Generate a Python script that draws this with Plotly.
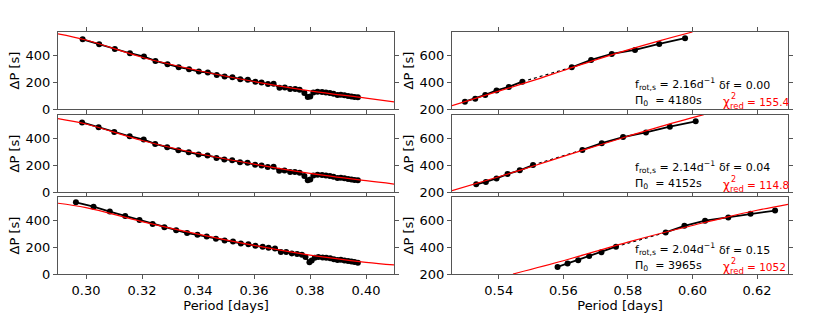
import plotly.graph_objects as go
from plotly.subplots import make_subplots

# ---------------- data ----------------
# Left column: observed period spacing vs period
period_left_top = [0.2988, 0.3047, 0.3103, 0.3157, 0.3207, 0.3248, 0.3291, 0.3331, 0.3368, 0.3403,
                   0.3435, 0.3467, 0.3495, 0.3523, 0.3551, 0.3578, 0.3605, 0.3627, 0.3650, 0.3670,
                   0.3691, 0.3710, 0.3729, 0.3747, 0.3763, 0.3780, 0.3792, 0.3801, 0.3812, 0.3827,
                   0.3843, 0.3857, 0.3871, 0.3884, 0.3898, 0.3910, 0.3923, 0.3936, 0.3948, 0.3959,
                   0.3971]
dp_left_top = [525, 488, 452, 420, 395, 362, 338, 315, 300, 282,
               275, 257, 245, 240, 225, 220, 205, 200, 188, 190,
               160, 162, 150, 150, 145, 120, 90, 95, 125, 130,
               128, 125, 120, 115, 105, 108, 103, 98, 95, 90,
               88]
period_left_mid = [0.2986, 0.3045, 0.3101, 0.3156, 0.3206, 0.3247, 0.3290, 0.3330, 0.3367, 0.3402,
                   0.3434, 0.3466, 0.3494, 0.3522, 0.3550, 0.3577, 0.3604, 0.3627, 0.3649, 0.3670,
                   0.3690, 0.3709, 0.3729, 0.3746, 0.3763, 0.3780, 0.3792, 0.3801, 0.3812, 0.3827,
                   0.3843, 0.3857, 0.3871, 0.3884, 0.3898, 0.3910, 0.3923, 0.3936, 0.3948, 0.3959,
                   0.3971]
dp_left_mid = [524, 488, 452, 420, 395, 362, 338, 315, 300, 282,
               275, 257, 245, 240, 225, 220, 205, 200, 188, 190,
               160, 162, 150, 150, 145, 120, 88, 95, 125, 130,
               128, 125, 120, 115, 105, 108, 103, 98, 95, 90,
               88]
period_left_bot = [0.2964, 0.3027, 0.3085, 0.3140, 0.3191, 0.3238, 0.3280, 0.3322, 0.3361, 0.3398,
                   0.3431, 0.3464, 0.3495, 0.3525, 0.3553, 0.3580, 0.3605, 0.3631, 0.3652, 0.3675,
                   0.3696, 0.3715, 0.3735, 0.3754, 0.3771, 0.3784, 0.3798, 0.3806, 0.3817, 0.3830,
                   0.3845, 0.3858, 0.3872, 0.3885, 0.3898, 0.3910, 0.3923, 0.3936, 0.3948, 0.3959,
                   0.3971]
dp_left_bot = [540, 507, 470, 437, 407, 377, 353, 330, 308, 295,
               282, 265, 252, 245, 230, 225, 212, 205, 197, 192,
               165, 165, 155, 150, 145, 128, 88, 102, 122, 128,
               125, 122, 118, 112, 105, 108, 102, 98, 95, 90,
               85]

# Left column: model curves
model_left_x = [0.29, 0.30, 0.32, 0.34, 0.36, 0.38, 0.40, 0.41]
model_left_top = [566, 520, 390, 290, 207, 137, 82, 53]
model_left_mid = [553, 512, 388, 290, 210, 140, 85, 60]
model_left_bot = [533, 500, 395, 300, 215, 142, 88, 68]

# Right column: observed period spacing vs period (points 6->7 joined by dotted line)
period_right_top = [0.5295, 0.5327, 0.5358, 0.5393, 0.5431, 0.5473, 0.5626, 0.5686, 0.5750, 0.5822, 0.5897, 0.5977]
dp_right_top = [255, 278, 306, 340, 366, 406, 514, 570, 615, 645, 690, 733]
period_right_mid = [0.5330, 0.5360, 0.5393, 0.5427, 0.5465, 0.5506, 0.5659, 0.5719, 0.5785, 0.5856, 0.5930, 0.6010]
dp_right_mid = [258, 276, 302, 335, 363, 403, 517, 568, 614, 649, 692, 732]
period_right_bot = [0.5582, 0.5613, 0.5646, 0.5680, 0.5718, 0.5763, 0.5917, 0.5975, 0.6039, 0.6111, 0.6180, 0.6256]
dp_right_bot = [253, 279, 304, 335, 363, 406, 513, 563, 602, 626, 653, 678]

# Right column: model curves
model_right_top_x = [0.5255, 0.54, 0.55, 0.56, 0.57, 0.58, 0.59, 0.6000]
model_right_top_y = [225, 335, 410, 490, 570, 645, 715, 780]
model_right_mid_x = [0.5255, 0.54, 0.55, 0.56, 0.57, 0.58, 0.59, 0.60, 0.6035]
model_right_mid_y = [210, 315, 390, 468, 545, 620, 693, 760, 783]
model_right_bot_x = [0.5444, 0.56, 0.57, 0.58, 0.59, 0.60, 0.61, 0.62, 0.6296]
model_right_bot_y = [200, 300, 370, 440, 505, 565, 625, 680, 725]

# Panel labels
f_rot = ["2.16", "2.14", "2.04"]
delta_f = ["0.00", "0.04", "0.15"]
pi0 = ["4180", "4152", "3965"]
chi2 = ["155.4", "114.8", "1052"]

left_xticks = [0.30, 0.32, 0.34, 0.36, 0.38, 0.40]
right_xticks = [0.54, 0.56, 0.58, 0.60, 0.62]
left_yticks = [0, 200, 400]
right_yticks = [200, 400, 600]

# ---------------- figure ----------------
W, H = 830, 316
FONT = "DejaVu Sans"
FS = 13
fig = make_subplots(rows=3, cols=2)

left_sets = [(period_left_top, dp_left_top, model_left_top),
             (period_left_mid, dp_left_mid, model_left_mid),
             (period_left_bot, dp_left_bot, model_left_bot)]
right_sets = [(period_right_top, dp_right_top, model_right_top_x, model_right_top_y),
              (period_right_mid, dp_right_mid, model_right_mid_x, model_right_mid_y),
              (period_right_bot, dp_right_bot, model_right_bot_x, model_right_bot_y)]

red = "#ff0000"
MS = 6
LW = 1.8
for i, (px, py, my) in enumerate(left_sets):
    r = i + 1
    fig.add_trace(go.Scatter(x=px, y=py, mode="lines+markers", line=dict(color="black", width=LW),
                             marker=dict(color="black", size=MS), showlegend=False), row=r, col=1)
    fig.add_trace(go.Scatter(x=model_left_x, y=my, mode="lines", line=dict(color=red, width=1.2, shape="spline"),
                             showlegend=False, hoverinfo="skip"), row=r, col=1)

for i, (px, py, mx, my) in enumerate(right_sets):
    r = i + 1
    fig.add_trace(go.Scatter(x=px[5:7], y=py[5:7], mode="lines", line=dict(color="black", width=1.2, dash="dot"),
                             showlegend=False), row=r, col=2)
    fig.add_trace(go.Scatter(x=px[:6], y=py[:6], mode="lines+markers", line=dict(color="black", width=LW),
                             marker=dict(color="black", size=MS), showlegend=False), row=r, col=2)
    fig.add_trace(go.Scatter(x=px[6:], y=py[6:], mode="lines+markers", line=dict(color="black", width=LW),
                             marker=dict(color="black", size=MS), showlegend=False), row=r, col=2)
    fig.add_trace(go.Scatter(x=mx, y=my, mode="lines", line=dict(color=red, width=1.2, shape="spline"),
                             showlegend=False, hoverinfo="skip"), row=r, col=2)

# panel geometry in pixels
left_px = (58, 394)
right_px = (452, 788)
rows_py = [(32, 109), (115, 192), (197, 274)]

axis_common = dict(showline=True, mirror="ticks", linecolor="#555555", linewidth=1.2,
                   ticks="outside", ticklen=4, tickwidth=1, tickcolor="#555555", automargin=False,
                   showgrid=False, zeroline=False, tickfont=dict(family=FONT, size=FS, color="black"))

for i in range(3):
    r = i + 1
    y0, y1 = rows_py[i]
    ydom = [1 - y1 / H, 1 - y0 / H]
    last = (i == 2)
    fig.update_xaxes(domain=[left_px[0] / W, left_px[1] / W], range=[0.29, 0.41], tickvals=left_xticks,
                     ticktext=[f"{v:.2f}" for v in left_xticks], showticklabels=last,
                     title=dict(text="Period [days]", font=dict(family=FONT, size=FS), standoff=1) if last else None,
                     row=r, col=1, **axis_common)
    fig.update_xaxes(domain=[right_px[0] / W, right_px[1] / W], range=[0.5255, 0.6296], tickvals=right_xticks,
                     ticktext=[f"{v:.2f}" for v in right_xticks], showticklabels=last,
                     title=dict(text="Period [days]", font=dict(family=FONT, size=FS), standoff=1) if last else None,
                     row=r, col=2, **axis_common)
    fig.update_yaxes(domain=ydom, range=[0, 580], tickvals=left_yticks,
                     title=dict(text="ΔP [s]", font=dict(family=FONT, size=FS), standoff=2),
                     row=r, col=1, **axis_common)
    fig.update_yaxes(domain=ydom, range=[200, 780], tickvals=right_yticks,
                     title=dict(text="ΔP [s]", font=dict(family=FONT, size=FS), standoff=2),
                     row=r, col=2, **axis_common)

# annotations
anns = []
fs = 11
for i in range(3):
    top = rows_py[i][0]
    l1 = top + 52
    l2 = top + 69

    def A(text, px, py, color="black", size=fs):
        anns.append(dict(text=text, x=px / W, y=1 - py / H, xref="paper", yref="paper",
                         xanchor="left", yanchor="middle", showarrow=False, borderpad=0,
                         font=dict(family=FONT, size=size, color=color)))

    A(f"f<sub>rot,s</sub> = {f_rot[i]}d<sup>−1</sup>", 634, l1)
    A(f"δf = {delta_f[i]}", 718, l1 + 1)
    A(f"Π<sub>0</sub>  = {pi0[i]}s", 634, l2)
    A("χ", 722, l2 + 1, red, 12)
    A("2", 730, l2 - 5, red, 8)
    A("red", 729, l2 + 5, red, 8.5)
    A(f"= {chi2[i]}", 746, l2 + 1, red, 10.5)

fig.update_layout(width=W, height=H, margin=dict(l=0, r=0, t=0, b=0),
                  paper_bgcolor="white", plot_bgcolor="white",
                  font=dict(family=FONT, size=FS, color="black"), annotations=anns)

fig.write_html("out.html", config={"displayModeBar": False},
               post_script="document.body.style.margin='0';document.body.style.overflow='hidden';")
